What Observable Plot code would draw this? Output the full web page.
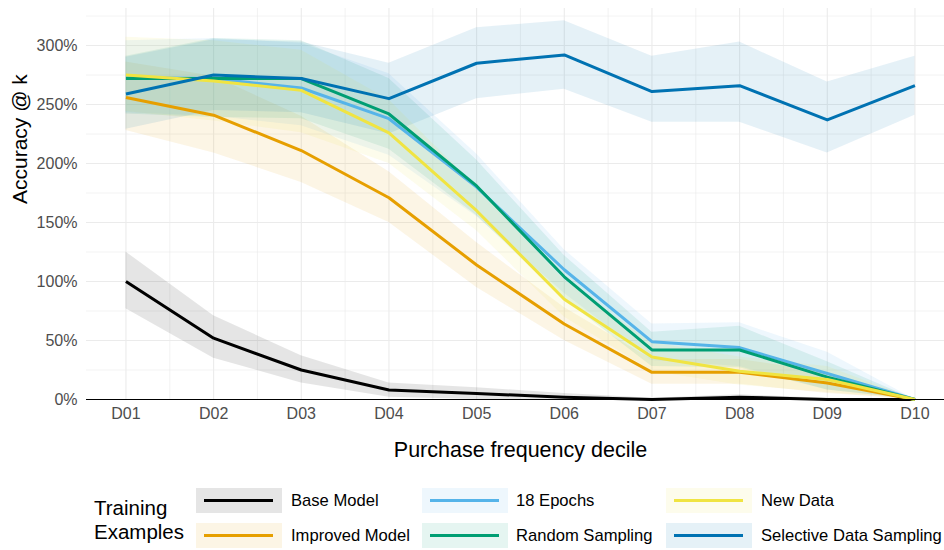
<!DOCTYPE html>
<html>
<head>
<meta charset="utf-8">
<script src="https://cdn.jsdelivr.net/npm/d3@7"></script>
<script src="https://cdn.jsdelivr.net/npm/@observablehq/plot@0.6"></script>
<style>
  html, body { margin: 0; padding: 0; background: #fff; }
  body { width: 944px; height: 550px; overflow: hidden; font-family: "Liberation Sans", Arial, Helvetica, sans-serif; }
  #legend { position: relative; width: 944px; height: 80px; }
  #legend .title { position: absolute; left: 94px; top: 26px; font-size: 20.5px; line-height: 23.7px; color: #000; }
  #legend .key { position: absolute; width: 86px; height: 25px; }
  #legend .key .stroke { position: absolute; left: 8px; right: 9px; top: 11px; height: 3px; }
  #legend .label { position: absolute; font-size: 16.6px; line-height: 20px; color: #000; white-space: nowrap; }
</style>
</head>
<body>
<div id="chart"></div>
<div id="legend"></div>
<script>
// Deciles of purchase frequency
const deciles = ["D01", "D02", "D03", "D04", "D05", "D06", "D07", "D08", "D09", "D10"];

// Training variants and their colours
const seriesNames = ["Base Model", "Improved Model", "18 Epochs", "Random Sampling", "New Data", "Selective Data Sampling"];
const seriesColors = ["#000000", "#E69F00", "#56B4E9", "#009E73", "#F0E442", "#0072B2"];

// Accuracy @ k (%) per decile: mean, lower and upper bound of the band
const baseModel    = [100, 52, 25, 8, 5, 2, 0, 2, 0, 0];
const baseLow      = [77, 35, 14, 2, 0, 0, 0, 0, 0, 0];
const baseHigh     = [125, 71, 37, 14, 10, 5, 1, 4, 1, 0];

const improvedModel = [256, 241, 211, 171, 114, 64, 23, 23, 14, 0];
const improvedLow   = [228, 209, 184, 150, 95, 50, 13, 13, 5, 0];
const improvedHigh  = [286, 274, 240, 193, 133, 78, 34, 34, 23, 0];

const epochs18     = [273, 272, 264, 238, 180, 110, 49, 44, 22, 0];
const epochs18Low  = [243, 240, 232, 207, 155, 90, 33, 28, 8, 0];
const epochs18High = [304, 306, 302, 276, 208, 127, 64, 65, 40, 0];

const randomSampling     = [272, 272, 272, 242, 181, 104, 42, 42, 19, 0];
const randomSamplingLow  = [242, 239, 238, 212, 156, 85, 28, 27, 8, 0];
const randomSamplingHigh = [291, 306, 304, 272, 203, 122, 57, 62, 32, 0];

const newData     = [275, 270, 262, 226, 160, 85, 36, 24, 17, 0];
const newDataLow  = [244, 236, 226, 200, 143, 70, 24, 12, 6, 0];
const newDataHigh = [307, 304, 296, 254, 180, 101, 48, 36, 28, 0];

const selective     = [259, 275, 272, 255, 285, 292, 261, 266, 237, 266];
const selectiveLow  = [229, 245, 243, 225, 255, 263, 235, 235, 209, 241];
const selectiveHigh = [290, 305, 303, 285, 315, 321, 291, 303, 269, 291];

// Axis ticks
const yTicks = [0, 50, 100, 150, 200, 250, 300];
const yMinor = [25, 75, 125, 175, 225, 275, 325];
const xTicks = [1, 2, 3, 4, 5, 6, 7, 8, 9, 10];
const xMinor = [1.5, 2.5, 3.5, 4.5, 5.5, 6.5, 7.5, 8.5, 9.5];

const means = [baseModel, improvedModel, epochs18, randomSampling, newData, selective];
const lows  = [baseLow, improvedLow, epochs18Low, randomSamplingLow, newDataLow, selectiveLow];
const highs = [baseHigh, improvedHigh, epochs18High, randomSamplingHigh, newDataHigh, selectiveHigh];

const rows = [];
seriesNames.forEach((name, i) => {
  deciles.forEach((d, j) => {
    rows.push({series: name, x: j + 1, y: means[i][j], lo: lows[i][j], hi: highs[i][j]});
  });
});

const grid = "#ebebeb";
const textGrey = "#4d4d4d";

const chart = Plot.plot({
  width: 944,
  height: 470,
  marginTop: 8,
  marginBottom: 71,
  marginLeft: 86,
  marginRight: 0,
  style: {fontFamily: "'Liberation Sans', Arial, Helvetica, sans-serif", background: "#fff"},
  x: {type: "linear", domain: [0.55, 10.337]},
  y: {domain: [0, 331.4]},
  color: {domain: seriesNames, range: seriesColors},
  marks: [
    Plot.ruleY(yMinor, {stroke: grid, strokeWidth: 0.6}),
    Plot.ruleX(xMinor, {stroke: grid, strokeWidth: 0.6}),
    Plot.ruleY(yTicks, {stroke: grid, strokeWidth: 1.1}),
    Plot.ruleX(xTicks, {stroke: grid, strokeWidth: 1.1}),
    Plot.areaY(rows, {x: "x", y1: "lo", y2: "hi", z: "series", fill: "series", fillOpacity: 0.1}),
    Plot.lineY(rows, {x: "x", y: "y", z: "series", stroke: "series", strokeWidth: 3, strokeLinejoin: "round", strokeLinecap: "butt"}),
    Plot.ruleY([0], {stroke: "#000", strokeWidth: 1.1}),
    Plot.axisX({ticks: xTicks, tickFormat: i => deciles[i - 1], tickSize: 0, tickPadding: 8, fontSize: 16, color: textGrey, label: null}),
    Plot.axisY({ticks: yTicks, tickFormat: v => v + "%", tickSize: 0, tickPadding: 9, fontSize: 16, color: textGrey, label: null}),
    Plot.text(["Accuracy @ k"], {text: d => d, frameAnchor: "left", dx: -66, rotate: -90, fontSize: 21, fill: "#000"}),
    Plot.text(["Purchase frequency decile"], {text: d => d, frameAnchor: "bottom", dx: 5, dy: 51, lineAnchor: "middle", fontSize: 21.5, fill: "#000"})
  ]
});
document.getElementById("chart").appendChild(chart);

// Legend: two rows, filled column by column
const legend = document.getElementById("legend");
const keyLeft = [196, 422, 666];
const labelLeft = [291, 516, 761];
const rowTop = [18, 53];

const title = document.createElement("div");
title.className = "title";
title.innerHTML = "Training<br>Examples";
legend.appendChild(title);

seriesNames.forEach((name, i) => {
  const col = Math.floor(i / 2), row = i % 2;
  const c = d3.color(seriesColors[i]);
  const key = document.createElement("div");
  key.className = "key";
  key.style.left = keyLeft[col] + "px";
  key.style.top = rowTop[row] + "px";
  key.style.background = `rgba(${c.r},${c.g},${c.b},0.1)`;
  const stroke = document.createElement("div");
  stroke.className = "stroke";
  stroke.style.background = seriesColors[i];
  key.appendChild(stroke);
  legend.appendChild(key);

  const label = document.createElement("div");
  label.className = "label";
  label.textContent = name;
  label.style.left = labelLeft[col] + "px";
  label.style.top = (rowTop[row] + 2.5) + "px";
  legend.appendChild(label);
});
</script>
</body>
</html>
